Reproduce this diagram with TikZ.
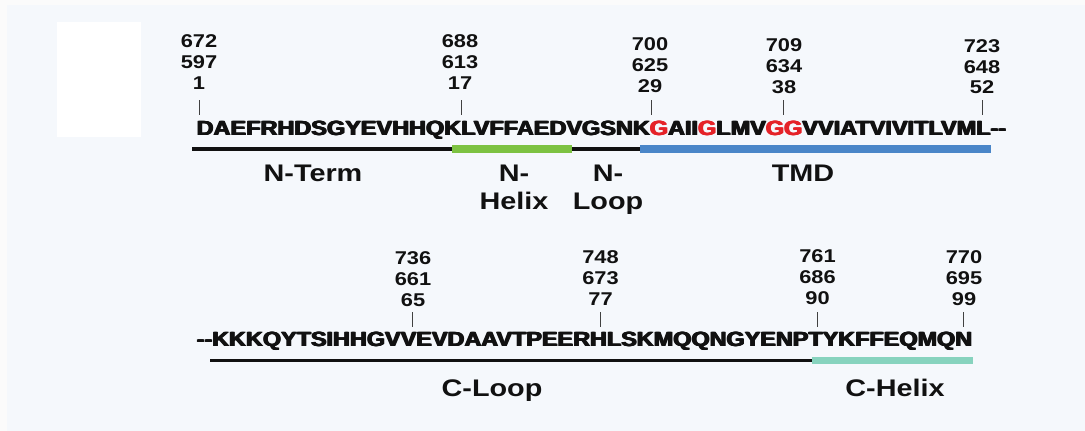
\documentclass[tikz,border=0pt]{standalone}
\usepackage{fontspec}
\setmainfont{Liberation Sans}
\usepackage{graphicx}
\definecolor{bgout}{HTML}{FBFBFB}
\definecolor{bgin}{HTML}{F5F8FC}
\definecolor{hgreen}{HTML}{7DC242}
\definecolor{hblue}{HTML}{4A86C8}
\definecolor{hteal}{HTML}{87D3BE}
\definecolor{gred}{HTML}{E52228}
\definecolor{ink}{HTML}{111111}
\newcommand\numstack[1]{\scalebox{1.18}[1]{\fontsize{18.5}{21}\selectfont\bfseries\begin{tabular}[t]{@{}c@{}}#1\end{tabular}}}
\newcommand\labstack[1]{\scalebox{1.2}[1]{\fontsize{24}{28}\selectfont\bfseries\begin{tabular}[t]{@{}c@{}}#1\end{tabular}}}
\newcommand\redres[1]{\textcolor{gred}{#1}}
\newcommand\heavytext[1]{\makebox[0pt][l]{#1}\makebox[0pt][l]{\hspace{0.45pt}#1}\makebox[0pt][l]{\hspace{0.9pt}#1}\hspace{1.3pt}#1}
\begin{document}
\begin{tikzpicture}[x=1pt,y=-1pt,
  every node/.style={inner sep=0pt, outer sep=0pt, text=ink},
  numlab/.style={anchor=base},
  seqtext/.style={anchor=base west},
  domlab/.style={anchor=base},
  tickline/.style={draw=ink!80, line width=1pt},
  blackbar/.style={draw=ink, line width=3.5pt},
  colbar/.style={line width=7.5pt}]
\useasboundingbox (0,0) rectangle (1085,431);
\fill[bgout] (0,0) rectangle (1085,431);
\fill[bgin] (7,5) rectangle (1085,431);
\fill[white] (57,22) rectangle (141,137);

% ---- line 1 ----
\node[seqtext] (seq1) at (196,135) {\resizebox{811pt}{\height}{\fontsize{20.5}{22}\selectfont\bfseries\heavytext{DAEFRHDSGYEVHHQKLVFFAEDVGSNK\redres{G}AII\redres{G}LMV\redres{GG}VVIATVIVITLVML-{}-}}};

\node[numlab] (g1) at (199,47) {\numstack{672\\597\\1}};
\node[numlab] (g17) at (460,47) {\numstack{688\\613\\17}};
\node[numlab] (g29) at (650,50) {\numstack{700\\625\\29}};
\node[numlab] (g38) at (784,51) {\numstack{709\\634\\38}};
\node[numlab] (g52) at (982,52) {\numstack{723\\648\\52}};

\coordinate (t1a) at (199,100);  \coordinate (t1b) at (199,115);
\coordinate (t17a) at (461,100); \coordinate (t17b) at (461,115);
\coordinate (t29a) at (651,100); \coordinate (t29b) at (651,115);
\coordinate (t38a) at (783,100); \coordinate (t38b) at (783,115);
\coordinate (t52a) at (982,100); \coordinate (t52b) at (982,115);
\draw[tickline] (t1a) -- (t1b);
\draw[tickline] (t17a) -- (t17b);
\draw[tickline] (t29a) -- (t29b);
\draw[tickline] (t38a) -- (t38b);
\draw[tickline] (t52a) -- (t52b);

\coordinate (b1s) at (192,149);
\coordinate (b1g) at (452,149);
\coordinate (b1h) at (572,149);
\coordinate (b1t) at (640,149);
\coordinate (b1e) at (991,149);
\draw[blackbar] (b1s) -- (b1t);
\draw[colbar, draw=hgreen] (b1g) -- (b1h);
\draw[colbar, draw=hblue] (b1t) -- (b1e);

\node[domlab] (nterm) at (313,181.5) {\labstack{N-Term}};
\node[domlab] (nhelix) at (514,181.5) {\labstack{N-\\Helix}};
\node[domlab] (nloop) at (608,181.5) {\labstack{N-\\Loop}};
\node[domlab] (tmd) at (803,181.5) {\labstack{TMD}};

% ---- line 2 ----
\node[seqtext] (seq2) at (196,346) {\resizebox{777pt}{\height}{\fontsize{20.5}{22}\selectfont\bfseries\heavytext{-{}-KKKQYTSIHHGVVEVDAAVTPEERHLSKMQQNGYENPTYKFFEQMQN}}};

\node[numlab] (g65) at (413,264) {\numstack{736\\661\\65}};
\node[numlab] (g77) at (600.5,263) {\numstack{748\\673\\77}};
\node[numlab] (g90) at (817.5,262) {\numstack{761\\686\\90}};
\node[numlab] (g99) at (964,263) {\numstack{770\\695\\99}};

\coordinate (t65a) at (412,312); \coordinate (t65b) at (412,327);
\coordinate (t77a) at (600.5,312); \coordinate (t77b) at (600.5,327);
\coordinate (t90a) at (817,312); \coordinate (t90b) at (817,327);
\coordinate (t99a) at (963.5,312); \coordinate (t99b) at (963.5,327);
\draw[tickline] (t65a) -- (t65b);
\draw[tickline] (t77a) -- (t77b);
\draw[tickline] (t90a) -- (t90b);
\draw[tickline] (t99a) -- (t99b);

\coordinate (b2s) at (210,360.5);
\coordinate (b2t) at (812,360.5);
\coordinate (b2e) at (973,360.5);
\draw[blackbar] (b2s) -- (b2t);
\draw[colbar, draw=hteal] (b2t) -- (b2e);

\node[domlab] (cloop) at (492,396) {\labstack{C-Loop}};
\node[domlab] (chelix) at (895,396) {\labstack{C-Helix}};
\end{tikzpicture}
\end{document}
